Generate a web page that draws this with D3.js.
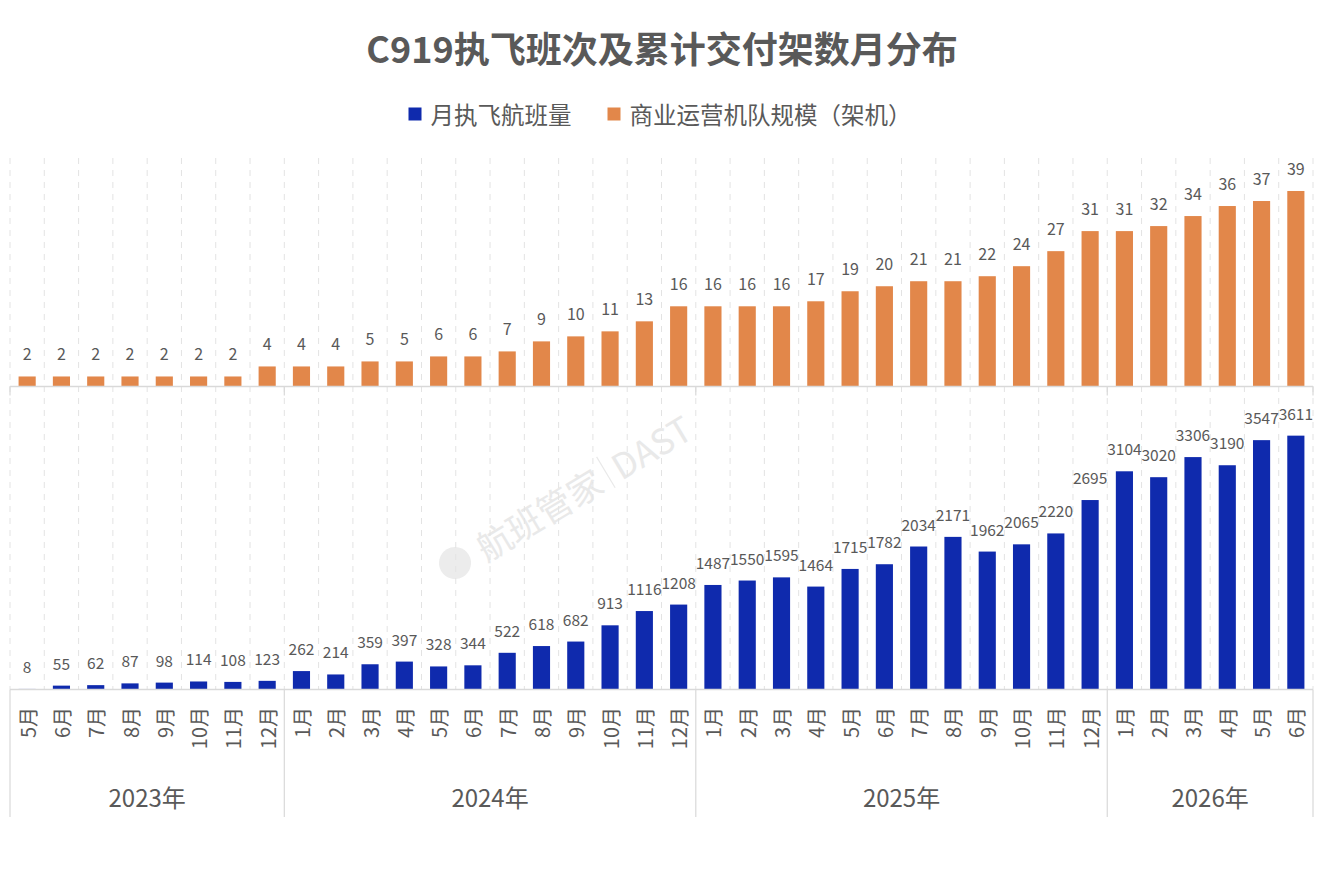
<!DOCTYPE html>
<html>
<head>
<meta charset="utf-8">
<script src="https://cdn.jsdelivr.net/npm/d3@7"></script>
<style>
  body { margin: 0; background: #fff; }
  svg text { font-family: "Noto Sans CJK SC", "Noto Sans", sans-serif; fill: #595959; }
</style>
</head>
<body>
<svg id="chart"></svg>
<script>
// C919 monthly flights + fleet size, two stacked panels on one category axis

const yearLabels = ["2023年", "2024年", "2025年", "2026年"];
const monthsPerYear = [8, 12, 12, 6];
const monthLabels = [
  "5月", "6月", "7月", "8月", "9月", "10月", "11月", "12月",
  "1月", "2月", "3月", "4月", "5月", "6月", "7月", "8月", "9月", "10月", "11月", "12月",
  "1月", "2月", "3月", "4月", "5月", "6月", "7月", "8月", "9月", "10月", "11月", "12月",
  "1月", "2月", "3月", "4月", "5月", "6月"
];
const fleetSize = [
  2, 2, 2, 2, 2, 2, 2, 4,
  4, 4, 5, 5, 6, 6, 7, 9, 10, 11, 13, 16,
  16, 16, 16, 17, 19, 20, 21, 21, 22, 24, 27, 31,
  31, 32, 34, 36, 37, 39
];
const monthlyFlights = [
  8, 55, 62, 87, 98, 114, 108, 123,
  262, 214, 359, 397, 328, 344, 522, 618, 682, 913, 1116, 1208,
  1487, 1550, 1595, 1464, 1715, 1782, 2034, 2171, 1962, 2065, 2220, 2695,
  3104, 3020, 3306, 3190, 3547, 3611
];
const seriesNames = ["月执飞航班量", "商业运营机队规模（架机）"];
const titleText = "C919执飞班次及累计交付架数月分布";

const W = 1320, H = 892;
const BLUE = "#0f2aad", ORANGE = "#e2874a", GRID = "#e3e3e3", AXIS = "#d9d9d9";

const svg = d3.select("#chart").attr("width", W).attr("height", H).attr("viewBox", [0, 0, W, H]);

const x = d3.scaleBand().domain(d3.range(monthLabels.length))
  .range([10, 1313]).paddingInner(0.5).paddingOuter(0.25);
const step = x.step();
const x0 = x.range()[0];

const yTop = d3.scaleLinear().domain([0, 45]).range([386.5, 386.5 - 45 * 5.013]);
const yBot = d3.scaleLinear().domain([0, 4000]).range([689.5, 689.5 - 4000 * 0.0703]);

// title
svg.append("text").attr("x", W / 2 + 2).attr("y", 47)
  .attr("text-anchor", "middle").attr("dominant-baseline", "central")
  .style("font-size", "36px").style("font-weight", 700)
  .text(titleText);

// legend
const legend = svg.append("g");
const legendItems = [{ name: seriesNames[0], color: BLUE }, { name: seriesNames[1], color: ORANGE }];
let lx = 0;
legendItems.forEach((d, i) => {
  const it = legend.append("g").attr("transform", `translate(${lx},0)`);
  it.append("rect").attr("x", 0).attr("y", -6.5).attr("width", 13).attr("height", 13).attr("fill", d.color);
  const t = it.append("text").attr("x", 22).attr("y", 0).attr("dominant-baseline", "central")
    .style("font-size", "23.5px").text(d.name);
  lx += 22 + t.node().getComputedTextLength() + 36;
});
const legW = lx - 36;
legend.attr("transform", `translate(${W / 2 - legW / 2},114)`);

// watermark
const wm = svg.append("g").attr("transform", "translate(455,563) rotate(-31)");
wm.append("circle").attr("r", 16).attr("fill", "#ececec");
const wmText = wm.append("text").attr("x", 27).attr("y", 0).attr("dominant-baseline", "central")
  .style("font-size", "35px").style("fill", "#e9e9e9").text("航班管家");
const wmLen = wmText.node().getComputedTextLength();
wm.append("line").attr("x1", 27 + wmLen + 9).attr("x2", 27 + wmLen + 9).attr("y1", -18).attr("y2", 18)
  .attr("stroke", "#e9e9e9").attr("stroke-width", 1.2);
wm.append("text").attr("x", 27 + wmLen + 18).attr("y", 0).attr("dominant-baseline", "central")
  .style("font-size", "35px").style("fill", "#e9e9e9").text("DAST");

// dashed gridlines at category boundaries
svg.append("g").selectAll("line")
  .data(d3.range(monthLabels.length + 1)).enter().append("line")
  .attr("x1", i => x0 + i * step).attr("x2", i => x0 + i * step)
  .attr("y1", 158).attr("y2", yBot(0))
  .attr("stroke", GRID).attr("stroke-width", 1).attr("stroke-dasharray", "6,6");

// year boundaries
const bounds = [0];
monthsPerYear.forEach(n => bounds.push(bounds[bounds.length - 1] + n));
const bx = bounds.map(b => x0 + b * step);

// top panel: fleet size
svg.append("g").selectAll("rect")
  .data(fleetSize).enter().append("rect")
  .attr("x", (d, i) => x(i)).attr("width", x.bandwidth())
  .attr("y", d => yTop(d)).attr("height", d => yTop(0) - yTop(d))
  .attr("fill", ORANGE);
svg.append("g").selectAll("text")
  .data(fleetSize).enter().append("text")
  .attr("x", (d, i) => x(i) + x.bandwidth() / 2).attr("y", d => yTop(d) - 16)
  .attr("text-anchor", "middle").style("font-size", "16px")
  .text(d => d);
svg.append("line").attr("x1", x0).attr("x2", x.range()[1])
  .attr("y1", yTop(0)).attr("y2", yTop(0)).attr("stroke", AXIS).attr("stroke-width", 1.5);
svg.append("g").selectAll("line").data(bx).enter().append("line")
  .attr("x1", d => d).attr("x2", d => d).attr("y1", yTop(0)).attr("y2", yTop(0) + 9)
  .attr("stroke", AXIS).attr("stroke-width", 1.2);

// bottom panel: monthly flights
svg.append("g").selectAll("rect")
  .data(monthlyFlights).enter().append("rect")
  .attr("x", (d, i) => x(i)).attr("width", x.bandwidth())
  .attr("y", d => yBot(d)).attr("height", d => yBot(0) - yBot(d))
  .attr("fill", BLUE);
svg.append("g").selectAll("text")
  .data(monthlyFlights).enter().append("text")
  .attr("x", (d, i) => x(i) + x.bandwidth() / 2).attr("y", d => yBot(d) - 16)
  .attr("text-anchor", "middle").style("font-size", "15.5px")
  .text(d => d);

// category axis
svg.append("line").attr("x1", x0).attr("x2", x.range()[1])
  .attr("y1", yBot(0)).attr("y2", yBot(0)).attr("stroke", AXIS).attr("stroke-width", 1.5);
svg.append("g").selectAll("line").data(bx).enter().append("line")
  .attr("x1", d => d).attr("x2", d => d).attr("y1", yBot(0)).attr("y2", 817)
  .attr("stroke", AXIS).attr("stroke-width", 1.2);

svg.append("g").selectAll("text")
  .data(monthLabels).enter().append("text")
  .attr("transform", (d, i) => `translate(${x(i) + x.bandwidth() / 2},707) rotate(-90)`)
  .attr("text-anchor", "end").attr("dominant-baseline", "central")
  .style("font-size", "20px")
  .text(d => d);

svg.append("g").selectAll("text")
  .data(yearLabels).enter().append("text")
  .attr("x", (d, i) => (bx[i] + bx[i + 1]) / 2).attr("y", 796)
  .attr("text-anchor", "middle").attr("dominant-baseline", "central")
  .style("font-size", "24px")
  .text(d => d);
</script>
</body>
</html>
